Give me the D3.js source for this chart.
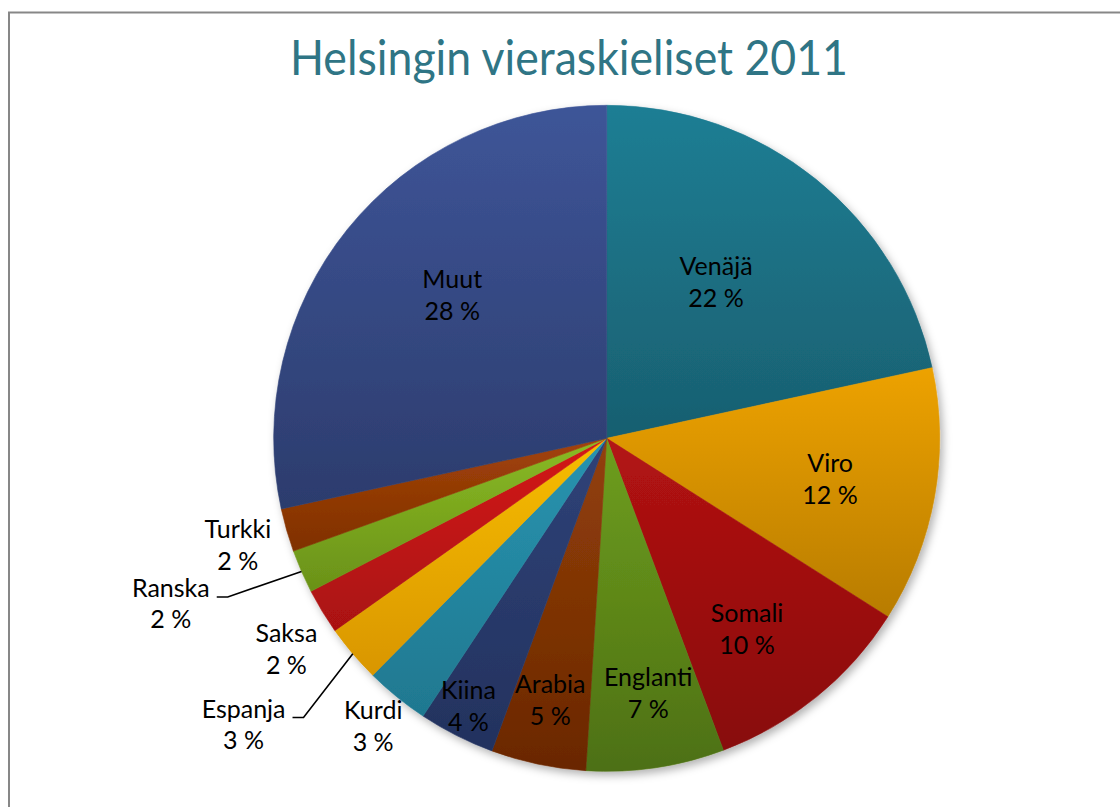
<!DOCTYPE html>
<html>
<head>
<meta charset="utf-8">
<script src="https://cdn.jsdelivr.net/npm/d3@7"></script>
<style>
  body { margin: 0; background: #fff; }
  text { font-family: Lato, "Open Sans", sans-serif; }
</style>
</head>
<body>
<div id="chart"></div>
<script>
const languages = ["Venäjä", "Viro", "Somali", "Englanti", "Arabia", "Kiina", "Kurdi", "Espanja", "Saksa", "Ranska", "Turkki", "Muut"];
const shares = [21.6, 12.4, 10.3, 6.7, 4.6, 3.7, 3.1, 2.8, 2.2, 2.1, 2.1, 28.4];
const chartTitle = "Helsingin vieraskieliset 2011";

// slice gradient, top colour -> bottom colour
const topColors = ["#1f7e94", "#eda200", "#b31313", "#6e9e1e", "#93400a", "#2f4278",
                   "#2894b0", "#f7bd00", "#d41a1a", "#8abb24", "#a3430a", "#3e5598"];
const bottomColors = ["#185f70", "#b87c00", "#880a0a", "#4d7013", "#6a2700", "#23325e",
                      "#1f7890", "#d99600", "#a91111", "#6a9118", "#7f3000", "#2c3c6d"];

// label placement: radius as share of pie radius, angle nudge in degrees
const labelRadius = [0.573, 0.682, 0.711, 0.775, 0.804, 0.905, 1.113, 1.388, 1.151, 1.40, 1.153, 0.633];
const labelNudge = [-3.9, 0.3, 2.7, -0.8, 0.3, 0.5, 0, 2.1, -2, 2.8, -0.1, 4];
const withLeader = ["Espanja", "Ranska"];

const width = 1120;
const height = 807;
const cx = 606.7, cy = 438.3;
const radius = 333;

const svg = d3.select("#chart")
    .append("svg")
    .attr("width", width)
    .attr("height", height);

const defs = svg.append("defs");

const shadow = defs.append("filter")
    .attr("id", "shadow")
    .attr("x", "-10%").attr("y", "-10%")
    .attr("width", "120%").attr("height", "120%");
shadow.append("feDropShadow")
    .attr("dx", 3).attr("dy", 4)
    .attr("stdDeviation", 4)
    .attr("flood-color", "#000")
    .attr("flood-opacity", 0.3);

languages.forEach((lang, i) => {
    const g = defs.append("linearGradient")
        .attr("id", "grad" + i)
        .attr("x1", 0).attr("y1", 0)
        .attr("x2", 0).attr("y2", 1);
    g.append("stop").attr("offset", "0%").attr("stop-color", topColors[i]);
    g.append("stop").attr("offset", "100%").attr("stop-color", bottomColors[i]);
});

// chart area frame
svg.append("rect")
    .attr("x", 9)
    .attr("y", 12.5)
    .attr("width", width + 20)
    .attr("height", height + 20)
    .attr("fill", "none")
    .attr("stroke", "#878787")
    .attr("stroke-width", 2);

svg.append("text")
    .attr("x", 569)
    .attr("y", 75)
    .attr("text-anchor", "middle")
    .attr("fill", "#2f7585")
    .attr("textLength", 558)
    .attr("lengthAdjust", "spacingAndGlyphs")
    .style("font-size", "48px")
    .text(chartTitle);

const total = d3.sum(shares);
const pieData = languages.map((lang, i) => ({ lang, value: shares[i], idx: i }));

const pie = d3.pie()
    .sort(null)
    .value(d => d.value);

const arc = d3.arc()
    .innerRadius(0)
    .outerRadius(radius);

const arcs = pie(pieData);

const pieG = svg.append("g")
    .attr("transform", `translate(${cx},${cy})`);

pieG.append("g")
    .attr("filter", "url(#shadow)")
    .selectAll("path")
    .data(arcs)
    .enter().append("path")
    .attr("d", arc)
    .attr("fill", d => `url(#grad${d.data.idx})`)
    .attr("stroke", d => `url(#grad${d.data.idx})`)
    .attr("stroke-width", 0.6);

const lineGap = 31.5;
const capH = 18;

const labels = pieG.selectAll(".label")
    .data(arcs)
    .enter().append("g")
    .attr("class", "label");

labels.each(function(d) {
    const i = d.data.idx;
    const a = (d.startAngle + d.endAngle) / 2 + labelNudge[i] * Math.PI / 180;
    const r = radius * labelRadius[i];
    const x = Math.sin(a) * r;
    const y = -Math.cos(a) * r;
    const g = d3.select(this);
    const t1 = g.append("text")
        .attr("x", x)
        .attr("y", y - lineGap / 2 + capH / 2)
        .attr("text-anchor", "middle")
        .style("font-size", "25px")
        .attr("fill", "#000")
        .text(d.data.lang);
    g.append("text")
        .attr("x", x)
        .attr("y", y + lineGap / 2 + capH / 2)
        .attr("text-anchor", "middle")
        .style("font-size", "25px")
        .attr("fill", "#000")
        .text(Math.round(d.data.value / total * 100) + " %");

    if (withLeader.includes(d.data.lang)) {
        const mid = (d.startAngle + d.endAngle) / 2;
        const w = t1.node().getComputedTextLength();
        const ex = x + w / 2 + 7;
        const ey = y - lineGap / 2 + capH / 2;
        const rim = [Math.sin(mid) * radius, -Math.cos(mid) * radius];
        g.insert("path", "text")
            .attr("d", d3.line()([rim, [ex + 11, ey], [ex, ey]]))
            .attr("fill", "none")
            .attr("stroke", "#000")
            .attr("stroke-width", 1.6);
    }
});
</script>
</body>
</html>
